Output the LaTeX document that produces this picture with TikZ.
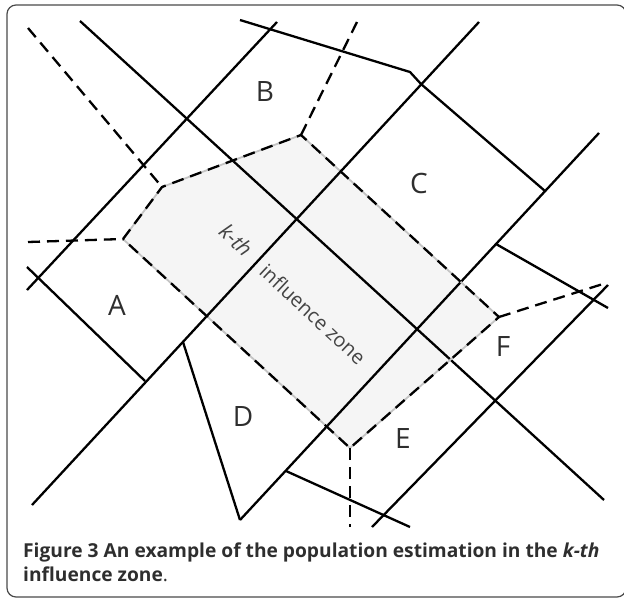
\documentclass[tikz,border=0pt]{standalone}
\usepackage{fontspec}
\setmainfont{Open Sans}
\usetikzlibrary{positioning}
\definecolor{zonefill}{HTML}{F5F5F5}
\definecolor{zonegrey}{HTML}{C4C4C4}
\definecolor{labelgrey}{HTML}{2E2E2E}
\definecolor{textgrey}{HTML}{444444}
\definecolor{framegrey}{HTML}{4A4A4A}

\begin{document}
\begin{tikzpicture}[x=1pt, y=-1pt, line join=round]
  \tikzstyle{edge}=[draw=black, line width=2.3pt]
  \tikzstyle{ray}=[draw=black, line width=2.3pt, dash pattern=on 12pt off 7pt]
  \tikzstyle{zoneedge}=[draw=zonegrey, line width=1.8pt]
  \tikzstyle{cell}=[text=labelgrey, font=\fontsize{28}{28}\selectfont]
  \tikzstyle{zonetext}=[text=textgrey, font=\fontsize{20}{20}\selectfont, rotate=-43]
  \tikzstyle{caption}=[anchor=base west, inner sep=0pt, text=labelgrey, font=\fontsize{19.2}{22}\selectfont\bfseries]

  \useasboundingbox (0,0) rectangle (624,600);
  \draw[framegrey, line width=1.2pt, rounded corners=9pt] (7,5) rectangle (626,597);

  % influence zone
  \coordinate (zA) at (123,239);
  \coordinate (zB) at (162,187);
  \coordinate (zC) at (301,135);
  \coordinate (zF) at (499,317);
  \coordinate (zE) at (350,448);
  \fill[zonefill] (zA) -- (zB) -- (zC) -- (zF) -- (zE) -- cycle;

  % solid cell borders
  \draw[edge] (80,21) -- (604,500);
  \draw[edge] (27,290) -- (277,22);
  \draw[edge] (32,505) -- (479,22);
  \draw[edge] (240,520) -- (599,133);
  \draw[edge] (372,527) -- (608,285);
  \draw[edge] (240,20) -- (410,72) -- (421,84) -- (545,191);
  \draw[edge] (27,267) -- (145,381);
  \draw[edge] (183,342) -- (240,520);
  \draw[edge] (286,471) -- (410,527);
  \draw[edge] (496,244) -- (608,308);

  % dashed borders
  \draw[zoneedge] (zA) -- (zB) -- (zC) -- (zF) -- (zE) -- cycle;
  \draw[ray] (zA) -- (zB) -- (zC) -- (zF) -- (zE) -- cycle;
  \draw[ray] (28,28) -- (zB);
  \draw[ray] (28,242) -- (zA);
  \draw[ray] (357,22) -- (zC);
  \draw[ray] (zF) -- (606,283);
  \draw[ray] (zE) -- (350,527);

  % labels
  \node[cell] (labA) at (117,305) {A};
  \node[cell] (labB) at (265,92) {B};
  \node[cell] (labC) at (419,183) {C};
  \node[cell] (labD) at (243,416) {D};
  \node[cell] (labE) at (403,438) {E};
  \node[cell] (labF) at (503,346) {F};
  \node[zonetext, font=\fontsize{21}{21}\selectfont\itshape] (kth) at (236,240) {k-th};
  \node[zonetext] (zone) at (313,314) {influence zone};

  % caption
  \node[caption] (cap1) at (23,557.5) {Figure 3 An example of the population estimation in the \textit{k-th}};
  \node[caption] (cap2) at (23,581.5) {influence zone\textmd{.}};
\end{tikzpicture}
\end{document}
